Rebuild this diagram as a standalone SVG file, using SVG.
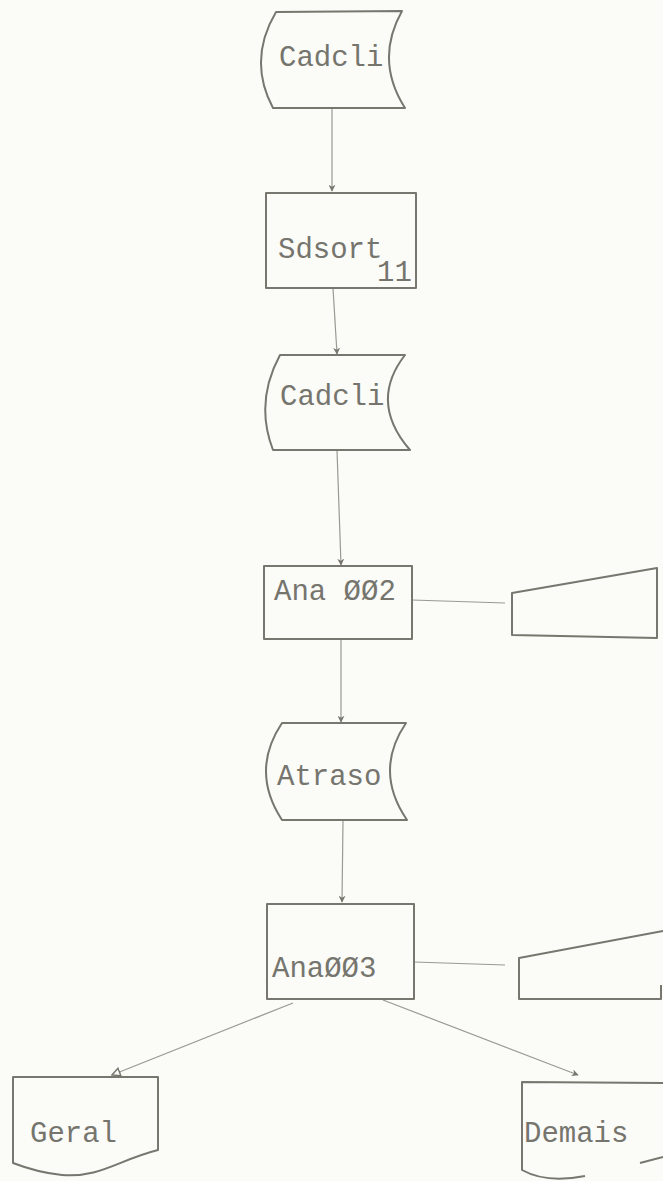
<svg xmlns="http://www.w3.org/2000/svg" width="663" height="1181" viewBox="0 0 663 1181">
<defs>
<style>
.shape{fill:none;stroke:#77776f;stroke-width:2;stroke-linejoin:round}
.conn{fill:none;stroke:#9a9a92;stroke-width:1.2}
.lbl{font-family:"Liberation Mono","DejaVu Sans Mono",monospace;font-size:29px;fill:#75756e}
</style>
<marker id="arr" viewBox="0 0 10 10" refX="9" refY="5" markerWidth="7" markerHeight="7" orient="auto" markerUnits="userSpaceOnUse">
<path d="M0,0 L10,5 L0,10 L3,5 z" fill="#77776f"/>
</marker>
<marker id="arrOpen" viewBox="0 0 10 10" refX="9" refY="5" markerWidth="10" markerHeight="10" orient="auto" markerUnits="userSpaceOnUse">
<path d="M1,1 L9,5 L1,9 z" fill="#fbfbf8" stroke="#77776f" stroke-width="1.5"/>
</marker>
</defs>
<rect width="663" height="1181" fill="#fbfbf8"/>
<g id="connectors">
<line class="conn" x1="332" y1="108" x2="332" y2="191" marker-end="url(#arr)"/>
<line class="conn" x1="333" y1="288" x2="337" y2="354" marker-end="url(#arr)"/>
<line class="conn" x1="337" y1="450" x2="341" y2="565" marker-end="url(#arr)"/>
<line class="conn" x1="341" y1="639" x2="341" y2="722" marker-end="url(#arr)"/>
<line class="conn" x1="343" y1="820" x2="342" y2="902" marker-end="url(#arr)"/>
<line class="conn" x1="412" y1="600" x2="505" y2="603"/>
<line class="conn" x1="414" y1="962" x2="505" y2="965"/>
<line class="conn" x1="293" y1="1003" x2="112" y2="1075" marker-end="url(#arrOpen)"/>
<line class="conn" x1="383" y1="1000" x2="578" y2="1075" marker-end="url(#arr)"/>
</g>
<g id="cadcli1">
<path class="shape" d="M276,12 L402,11 Q374.5,60 405,108 L273,108 Q247.5,60 276,12 z"/>
<text class="lbl" x="279" y="66">Cadcli</text>
</g>
<g id="sdsort">
<rect class="shape" x="266" y="193" width="150" height="95"/>
<text class="lbl" x="278" y="258" font-size="26">Sdsort</text>
<text class="lbl" x="377" y="281" font-size="24">11</text>
</g>
<g id="cadcli2">
<path class="shape" d="M280,355 L405,355 Q368.5,402 410,450 L273,450 Q254.5,402 280,355 z"/>
<text class="lbl" x="280" y="405">Cadcli</text>
</g>
<g id="ana002">
<rect class="shape" x="264" y="566" width="148" height="73"/>
<text class="lbl" x="274" y="600" font-size="30">Ana ØØ2</text>
</g>
<g id="display1">
<path class="shape" d="M512,593 L657,568 L657,638 L512,635 z"/>
</g>
<g id="atraso">
<path class="shape" d="M282,723 L406,723 Q373.5,771 407,820 L282,820 Q250,771 282,723 z"/>
<text class="lbl" x="277" y="785">Atraso</text>
</g>
<g id="ana003">
<rect class="shape" x="267" y="904" width="147" height="95"/>
<text class="lbl" x="272" y="977" font-size="30">AnaØØ3</text>
</g>
<g id="display2">
<path class="shape" d="M663,931 L519,958 L519,999 L661,999 L661,985"/>
</g>
<g id="geral">
<path class="shape" d="M13,1077 L158,1077 L158,1150 C118,1160 100,1178 62,1175 C42,1173 26,1168 13,1163 z"/>
<text class="lbl" x="30" y="1142">Geral</text>
</g>
<g id="demais">
<path class="shape" d="M663,1083 L522,1082 L522,1170 C540,1180 560,1181 585,1176"/>
<path class="shape" d="M640,1163 L663,1157"/>
<text class="lbl" x="524" y="1142">Demais</text>
</g>
</svg>
